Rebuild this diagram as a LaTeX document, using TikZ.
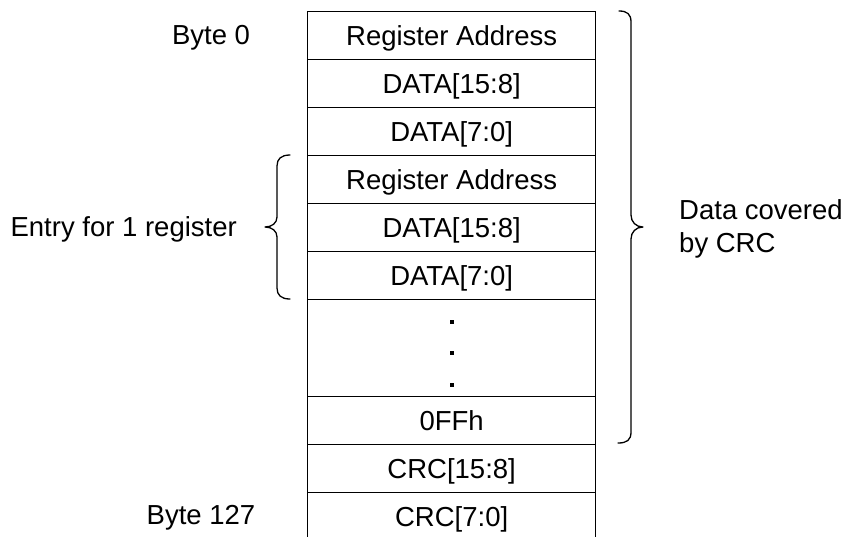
\documentclass[tikz,border=0pt]{standalone}
\usepackage{fontspec}
\setmainfont{Liberation Sans}
\begin{document}
\begin{tikzpicture}[x=1pt,y=-1pt,
  cell/.style={draw,line width=1.3pt,minimum width=288pt,minimum height=48pt,inner sep=0pt,anchor=north west,font=\fontsize{27.5}{33}\selectfont,text height=19.5pt,text depth=0pt},
  lbl/.style={font=\fontsize{27.5}{33}\selectfont,inner sep=0pt},
  brace/.style={line width=1.3pt,line cap=round,line join=round},
  dot/.style={fill=black,minimum size=4pt,inner sep=0pt,draw=none}]
\useasboundingbox (0,0) rectangle (845,536);
\clip (0,0) rectangle (845,536);
\node[cell] (r1) at (307,11) {Register Address};
\node[cell] (r2) at (307,59) {DATA[15:8]};
\node[cell] (r3) at (307,107) {DATA[7:0]};
\node[cell] (r4) at (307,155) {Register Address};
\node[cell] (r5) at (307,203) {DATA[15:8]};
\node[cell] (r6) at (307,251) {DATA[7:0]};
\node[cell,minimum height=97pt] (r7) at (307,299) {};
\node[cell] (r8) at (307,396) {0FFh};
\node[cell] (r9) at (307,444) {CRC[15:8]};
\node[cell] (r10) at (307,492) {CRC[7:0]};
\node[dot] (d1) at (452,322) {};
\node[dot] (d2) at (452,353) {};
\node[dot] (d3) at (452,385) {};
% labels
\node[lbl,text height=19.5pt,text depth=0pt] (b0) at (211,35) {Byte 0};
\node[lbl,text height=19.5pt,text depth=0pt] (b127) at (201,515) {Byte 127};
\node[lbl,anchor=east,text height=19.5pt,text depth=0pt] (entry) at (237,227) {Entry for 1 register};
\node[lbl,anchor=west,align=left] (cov) at (679,229) {Data covered\\by CRC};
% right brace
\draw[brace] (619,11) .. controls (627,11) and (631,14) .. (631,22)
  -- (631,215) .. controls (631,222) and (636,227) .. (643,227)
  .. controls (636,227) and (631,232) .. (631,239)
  -- (631,432) .. controls (631,440) and (627,443) .. (618,443);
% left brace
\draw[brace] (290,155) .. controls (281,155) and (277,159) .. (277,166)
  -- (277,217) .. controls (277,223) and (272,227) .. (265,227)
  .. controls (272,227) and (277,231) .. (277,237)
  -- (277,288) .. controls (277,295) and (281,299) .. (290,299);
\end{tikzpicture}
\end{document}
